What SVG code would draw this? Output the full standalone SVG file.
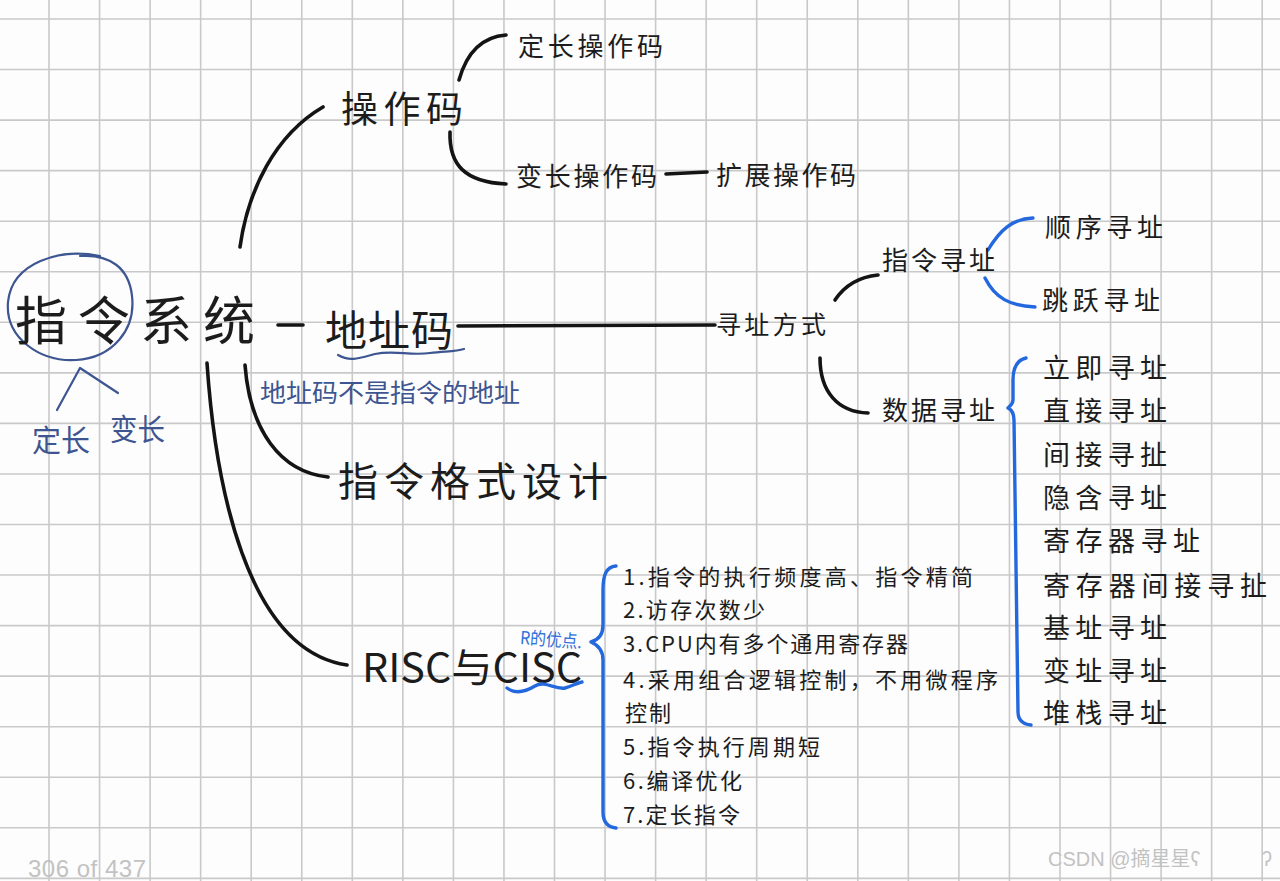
<svg xmlns="http://www.w3.org/2000/svg" width="1280" height="881" viewBox="0 0 1280 881">
<defs>
<style>
.grid{stroke:#c9c9c9;stroke-width:1.6;fill:none}
.t{font-family:"Noto Sans CJK SC","Noto Sans",sans-serif;fill:#1c1c1c}
.ann{font-family:"Noto Sans CJK SC","Noto Sans",sans-serif;fill:#3d5590}
.blt{font-family:"Noto Sans CJK SC","Noto Sans",sans-serif;fill:#2d6fd8}
.k{stroke:#141414;stroke-width:3.6;fill:none;stroke-linecap:round}
.b{stroke:#2468de;stroke-width:3.4;fill:none;stroke-linecap:round;stroke-linejoin:round}
.d{stroke:#3d5590;stroke-width:2.2;fill:none;stroke-linecap:round;stroke-linejoin:round}
.wm{font-family:"Liberation Sans","Noto Sans CJK SC",sans-serif;fill:#c2c2c2}
</style>
</defs>
<rect width="1280" height="881" fill="#fdfdfd"/>
<path class="grid" d="M-1.55 0V881M49 0V881M99.55 0V881M150.1 0V881M200.65 0V881M251.2 0V881M301.75 0V881M352.3 0V881M402.85 0V881M453.4 0V881M503.95 0V881M554.5 0V881M605.05 0V881M655.6 0V881M706.15 0V881M756.7 0V881M807.25 0V881M857.8 0V881M908.35 0V881M958.9 0V881M1009.45 0V881M1060 0V881M1110.55 0V881M1161.1 0V881M1211.65 0V881M1262.2 0V881M0 19H1280M0 69.55H1280M0 120.1H1280M0 170.65H1280M0 221.2H1280M0 271.75H1280M0 322.3H1280M0 372.85H1280M0 423.4H1280M0 473.95H1280M0 524.5H1280M0 575.05H1280M0 625.6H1280M0 676.15H1280M0 726.7H1280M0 777.25H1280M0 827.8H1280M0 878.35H1280"/>

<g id="connectors">
<path class="k" d="M240,247 C248,190 275,135 323,107"/>
<path class="k" d="M459,80 C466,55 480,37 506,35"/>
<path class="k" d="M450,132 C449,165 465,182 506,184"/>
<path class="k" d="M666,174 L707,172"/>
<path class="k" d="M278,325 L303,325"/>
<path class="k" d="M458,326 L715,325"/>
<path class="k" d="M835,300 C845,285 858,277 878,275"/>
<path class="k" d="M820,358 C820,392 838,412 868,413"/>
<path class="k" d="M245,365 C250,430 280,472 328,477"/>
<path class="k" d="M207,363 C215,480 245,650 347,665"/>
<path class="b" d="M988,250 C1000,230 1012,219 1033,218"/>
<path class="b" d="M985,278 C995,298 1010,306 1035,307"/>
<path class="b" d="M1026,358 C1017,360 1013,367 1013,380 L1013,400 C1013,404 1010,406 1008,408 C1012,410 1014,414 1014,420 L1018,712 C1018,720 1022,724 1031,725"/>
<path class="b" d="M616,566 C606,567 603,575 603,590 L603,625 C603,635 598,640 591,642 C598,645 603,650 603,660 L603,812 C603,822 607,827 616,828"/>
<path class="d" d="M57,410 L80,368 L118,393"/>
</g>

<g id="root">
<path class="d" d="M100,256 C60,248 12,262 8,302 C5,338 40,362 76,360 C112,358 136,330 132,296 C129,268 110,254 80,256"/>
<text class="t" x="15" y="340" font-size="52" textLength="240" lengthAdjust="spacing">指令系统</text>
<text class="ann" x="32" y="451" font-size="30" textLength="58" lengthAdjust="spacingAndGlyphs">定长</text>
<text class="ann" x="110" y="440" font-size="30" textLength="55" lengthAdjust="spacingAndGlyphs">变长</text>
</g>

<g id="opcode">
<text class="t" x="341" y="123" font-size="37" textLength="122" lengthAdjust="spacing" fill="#2a2a2a">操作码</text>
</g>
<g id="fixed-opcode">
<text class="t" x="518" y="56" font-size="26" textLength="145" lengthAdjust="spacing">定长操作码</text>
</g>
<g id="var-opcode">
<text class="t" x="516" y="186" font-size="26" textLength="141" lengthAdjust="spacing">变长操作码</text>
</g>
<g id="ext-opcode">
<text class="t" x="716" y="185" font-size="26" textLength="140" lengthAdjust="spacing">扩展操作码</text>
</g>

<g id="addr-code">
<text class="t" x="325" y="346" font-size="42" textLength="128" lengthAdjust="spacing">地址码</text>
<path class="d" d="M338,355 C350,362 360,358 375,354 C395,350 410,356 430,353 C445,351 455,352 464,349"/>
<text class="ann" x="260" y="402" font-size="25" textLength="260" lengthAdjust="spacingAndGlyphs">地址码不是指令的地址</text>
</g>

<g id="addr-mode">
<text class="t" x="716" y="334" font-size="25" textLength="110" lengthAdjust="spacing">寻址方式</text>
</g>
<g id="inst-addr">
<text class="t" x="882" y="270" font-size="26" textLength="113" lengthAdjust="spacing">指令寻址</text>
</g>
<g id="seq-addr">
<text class="t" x="1045" y="237" font-size="26" textLength="118" lengthAdjust="spacing">顺序寻址</text>
</g>
<g id="jump-addr">
<text class="t" x="1042" y="310" font-size="26" textLength="118" lengthAdjust="spacing">跳跃寻址</text>
</g>
<g id="data-addr">
<text class="t" x="882" y="420" font-size="26" textLength="113" lengthAdjust="spacing">数据寻址</text>
</g>

<g id="data-modes">
<text class="t" x="1043" y="378" font-size="27" textLength="124" lengthAdjust="spacing">立即寻址</text>
<text class="t" x="1043" y="421" font-size="27" textLength="124" lengthAdjust="spacing">直接寻址</text>
<text class="t" x="1043" y="465" font-size="27" textLength="124" lengthAdjust="spacing">间接寻扯</text>
<text class="t" x="1043" y="508" font-size="27" textLength="124" lengthAdjust="spacing">隐含寻址</text>
<text class="t" x="1043" y="551" font-size="27" textLength="157" lengthAdjust="spacing">寄存器寻址</text>
<text class="t" x="1043" y="596" font-size="27" textLength="224" lengthAdjust="spacing">寄存器间接寻扯</text>
<text class="t" x="1043" y="638" font-size="27" textLength="124" lengthAdjust="spacing">基址寻址</text>
<text class="t" x="1043" y="681" font-size="27" textLength="124" lengthAdjust="spacing">变址寻址</text>
<text class="t" x="1043" y="723" font-size="27" textLength="124" lengthAdjust="spacing">堆栈寻址</text>
</g>

<g id="format-design">
<text class="t" x="338" y="496" font-size="40" textLength="270" lengthAdjust="spacing">指令格式设计</text>
</g>

<g id="risc-cisc">
<text class="t" x="362" y="682" font-size="40" textLength="220" lengthAdjust="spacingAndGlyphs">RISC与CISC</text>
<path class="b" stroke-width="2.4" d="M507,688 C515,694 525,692 535,686 C545,680 555,690 565,688 C572,686 577,683 582,682"/>
<text class="blt" x="520" y="646" font-size="18" textLength="62" lengthAdjust="spacingAndGlyphs" transform="rotate(4 550 640)">R的优点.</text>
</g>

<g id="risc-list">
<text class="t" x="623" y="585" font-size="22" textLength="350" lengthAdjust="spacing">1.指令的执行频度高、指令精简</text>
<text class="t" x="623" y="618" font-size="22" textLength="142" lengthAdjust="spacing">2.访存次数少</text>
<text class="t" x="623" y="652" font-size="22" textLength="285" lengthAdjust="spacing">3.CPU内有多个通用寄存器</text>
<text class="t" x="623" y="688" font-size="22" textLength="375" lengthAdjust="spacing">4.采用组合逻辑控制，不用微程序</text>
<text class="t" x="625" y="721" font-size="22" textLength="46" lengthAdjust="spacing">控制</text>
<text class="t" x="623" y="755" font-size="22" textLength="197" lengthAdjust="spacing">5.指令执行周期短</text>
<text class="t" x="623" y="789" font-size="22" textLength="119" lengthAdjust="spacing">6.编译优化</text>
<text class="t" x="623" y="823" font-size="22" textLength="117" lengthAdjust="spacing">7.定长指令</text>
</g>

<text class="wm" x="28" y="877" font-size="24" textLength="118" lengthAdjust="spacing" fill="#cccccc">306 of 437</text>
<text class="wm" x="1048" y="866" font-size="20">CSDN @摘星星ʕ</text>
<text class="wm" x="1262" y="866" font-size="20">ʔ</text>
</svg>
